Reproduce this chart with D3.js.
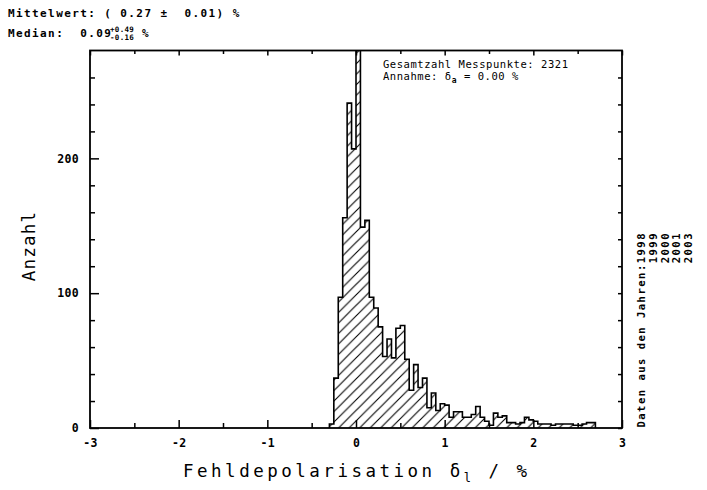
<!DOCTYPE html>
<html>
<head>
<meta charset="utf-8">
<script src="https://cdn.jsdelivr.net/npm/d3@7"></script>
<style>
  html, body { margin: 0; padding: 0; background: #fff; }
  svg { display: block; }
  text { font-family: "DejaVu Sans Mono", "Liberation Mono", monospace; fill: #000; white-space: pre; }
</style>
</head>
<body>
<svg id="chart" width="707" height="490"></svg>
<script>
// Histogram of the depolarisation offset, bins of 0.05 %
const binLower = [-0.30, -0.25, -0.20, -0.15, -0.10, -0.05, 0.00, 0.05, 0.10, 0.15,
                  0.20, 0.25, 0.30, 0.35, 0.40, 0.45, 0.50, 0.55, 0.60, 0.65,
                  0.70, 0.75, 0.80, 0.85, 0.90, 0.95, 1.00, 1.05, 1.10, 1.15,
                  1.20, 1.25, 1.30, 1.35, 1.40, 1.45, 1.50, 1.55, 1.60, 1.65,
                  1.70, 1.75, 1.80, 1.85, 1.90, 1.95, 2.00, 2.05, 2.10, 2.15,
                  2.20, 2.25, 2.30, 2.35, 2.40, 2.45, 2.50, 2.55, 2.60, 2.65];
const binWidth = 0.05;
const counts = [3, 37, 97, 156, 241, 207, 285, 149, 154, 97,
                89, 75, 53, 66, 52, 74, 76, 51, 28, 47,
                30, 37, 15, 26, 13, 18, 17, 8, 12, 12,
                8, 8, 10, 16, 8, 5, 2, 11, 8, 9,
                4, 4, 3, 4, 8, 6, 5, 3, 3, 3,
                2, 3, 3, 3, 3, 2, 2, 3, 4, 4];

const xMajorTicks = [-3, -2, -1, 0, 1, 2, 3];
const xMinorTicks = [-2.5, -1.5, -0.5, 0.5, 1.5, 2.5];
const yMajorTicks = [0, 100, 200];
const yMinorTicks = [20, 40, 60, 80, 120, 140, 160, 180, 220, 240, 260];
const years = ["1999", "2000", "2001", "2003"];

const svg = d3.select("#chart");
const L = 90, R = 622, T = 50.5, B = 428;

const x = d3.scaleLinear().domain([-3, 3]).range([L, R]);
const y = d3.scaleLinear().domain([0, 280]).range([B, T]);

// hatch pattern "/"
const s = 10.5;
const defs = svg.append("defs");
const pat = defs.append("pattern")
  .attr("id", "hatch").attr("patternUnits", "userSpaceOnUse")
  .attr("width", s).attr("height", s);
pat.append("path")
  .attr("d", `M0,${s} L${s},0 M${-s/2},${s/2} L${s/2},${-s/2} M${s/2},${s*1.5} L${s*1.5},${s/2}`)
  .attr("stroke", "#000").attr("stroke-width", 1.1).attr("fill", "none");

defs.append("clipPath").attr("id", "plotclip")
  .append("rect").attr("x", L).attr("y", T).attr("width", R - L).attr("height", B - T);

// step outline points
const pts = [{ x: binLower[0], c: 0 }];
binLower.forEach((b, i) => pts.push({ x: b, c: counts[i] }));
const lastEdge = binLower[binLower.length - 1] + binWidth;
pts.push({ x: lastEdge, c: counts[counts.length - 1] });
pts.push({ x: lastEdge, c: 0 });

const g = svg.append("g").attr("clip-path", "url(#plotclip)");
g.append("path")
  .datum(pts)
  .attr("d", d3.area().curve(d3.curveStepAfter).x(d => x(d.x)).y0(y(0)).y1(d => y(d.c)))
  .attr("fill", "url(#hatch)");
g.append("path")
  .datum(pts)
  .attr("d", d3.line().curve(d3.curveStepAfter).x(d => x(d.x)).y(d => y(d.c)))
  .attr("fill", "none").attr("stroke", "#000").attr("stroke-width", 1.6);

// axes (ticks pointing inwards)
function styleAxis(sel) {
  sel.select(".domain").remove();
  sel.selectAll("line").attr("stroke", "#000").attr("stroke-width", 1.5);
  sel.selectAll("text").attr("font-size", 11.5).attr("font-weight", "bold")
    .attr("font-family", "'DejaVu Sans Mono', monospace").attr("letter-spacing", 0.3);
}
svg.append("g").attr("transform", `translate(0,${B})`)
  .call(d3.axisBottom(x).tickValues(xMajorTicks).tickSize(-8).tickPadding(11).tickFormat(d => String(d)))
  .call(styleAxis);
svg.append("g").attr("transform", `translate(0,${B})`)
  .call(d3.axisBottom(x).tickValues(xMinorTicks).tickSize(-5).tickFormat(""))
  .call(styleAxis);
svg.append("g").attr("transform", `translate(0,${T})`)
  .call(d3.axisTop(x).tickValues(xMajorTicks).tickSize(-5).tickFormat(""))
  .call(styleAxis);
svg.append("g").attr("transform", `translate(0,${T})`)
  .call(d3.axisTop(x).tickValues(xMinorTicks).tickSize(-3.5).tickFormat(""))
  .call(styleAxis);
svg.append("g").attr("transform", `translate(${L},0)`)
  .call(d3.axisLeft(y).tickValues(yMajorTicks).tickSize(-9).tickPadding(11).tickFormat(d => String(d)))
  .call(styleAxis);
svg.append("g").attr("transform", `translate(${L},0)`)
  .call(d3.axisLeft(y).tickValues(yMinorTicks).tickSize(-5).tickFormat(""))
  .call(styleAxis);
svg.append("g").attr("transform", `translate(${R},0)`)
  .call(d3.axisRight(y).tickValues(yMajorTicks.concat(yMinorTicks)).tickSize(-4).tickFormat(""))
  .call(styleAxis);

// frame
svg.append("rect").attr("x", L).attr("y", T).attr("width", R - L).attr("height", B - T)
  .attr("fill", "none").attr("stroke", "#000").attr("stroke-width", 1.8);

// axis titles
svg.append("text")
  .attr("x", 183).attr("y", 477)
  .attr("font-size", 17.5).attr("letter-spacing", 3.5)
  .call(t => {
    t.append("tspan").text("Fehldepolarisation δ");
    t.append("tspan").attr("font-size", 12).attr("dy", 5).text("l");
    t.append("tspan").attr("dy", -5).text(" / %");
  });
svg.append("text")
  .attr("transform", "translate(35,246) rotate(-90)").attr("text-anchor", "middle")
  .attr("font-size", 17.5).attr("letter-spacing", 1.2)
  .text("Anzahl");

// statistics
const stat = svg.append("g").attr("font-weight", "bold");
stat.append("text").attr("x", 8).attr("y", 17).attr("font-size", 11).attr("letter-spacing", 1.4)
  .text("Mittelwert: ( 0.27 ±  0.01) %");
stat.append("text").attr("x", 8).attr("y", 37).attr("font-size", 11).attr("letter-spacing", 1.4)
  .text("Median:  0.09");
stat.append("text").attr("x", 110).attr("y", 31.5).attr("font-size", 7.5).attr("letter-spacing", 0.3).text("+0.49");
stat.append("text").attr("x", 110).attr("y", 39.5).attr("font-size", 7.5).attr("letter-spacing", 0.3).text("-0.16");
stat.append("text").attr("x", 142).attr("y", 37).attr("font-size", 11).text("%");

svg.append("text").attr("x", 383).attr("y", 68).attr("font-size", 10.5).attr("letter-spacing", 0.55)
  .text("Gesamtzahl Messpunkte: 2321");
svg.append("text").attr("x", 383).attr("y", 80).attr("font-size", 10.5).attr("letter-spacing", 0.55)
  .call(t => {
    t.append("tspan").text("Annahme: δ");
    t.append("tspan").attr("font-size", 8).attr("font-weight", "bold").attr("dy", 3).text("a");
    t.append("tspan").attr("dy", -3).text(" = 0.00 %");
  });

// data years, written vertically on the right
svg.append("text").attr("transform", "translate(645,232) rotate(-90)")
  .attr("text-anchor", "end").attr("font-size", 10.5).attr("font-weight", "bold").attr("letter-spacing", 1.5)
  .text("Daten aus den Jahren:1998");
years.forEach((yr, i) => {
  svg.append("text").attr("transform", `translate(${657 + i * 11.7},232) rotate(-90)`)
    .attr("text-anchor", "end").attr("font-size", 10.5).attr("font-weight", "bold").attr("letter-spacing", 1.5)
    .text(yr);
});
</script>
</body>
</html>
